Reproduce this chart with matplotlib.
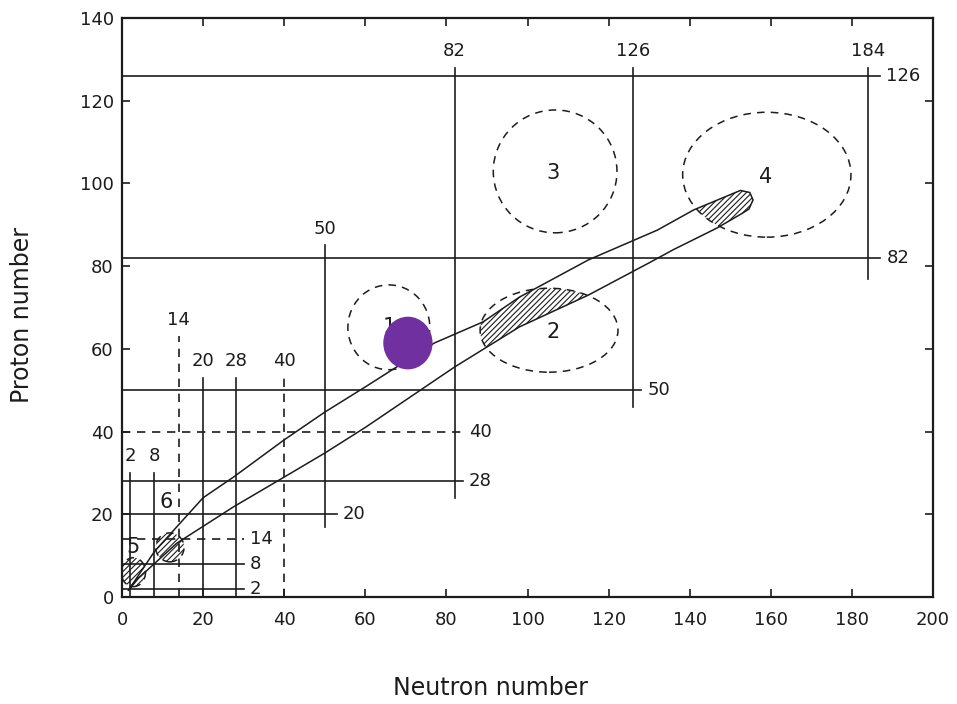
import matplotlib
matplotlib.use("Agg")
import matplotlib.pyplot as plt
from matplotlib.patches import Ellipse, Polygon

# magic numbers (14 and 40 are the semi-magic, dashed ones)
MAGIC_N = [2, 8, 14, 20, 28, 40, 50, 82, 126, 184]
MAGIC_Z = [2, 8, 14, 20, 28, 40, 50, 82, 126]
DASHED = [14, 40]

# edges of the stability band
UPPER_N = [1.5, 8, 20, 27.5, 40, 50, 60, 77, 89, 98, 115, 132, 141, 152.5]
UPPER_Z = [1.5, 11, 24, 29, 38, 44.7, 50.8, 61.4, 66.5, 72.5, 81.5, 88.7, 93.6, 98.3]
TIP_N = [154.8, 155.6, 154.6]
TIP_Z = [97.8, 96.0, 93.8]
LOWER_N = [153, 146.7, 136, 130, 115, 98, 82, 60, 50, 40, 27.5, 13.5, 4, 1.5]
LOWER_Z = [92.8, 89.2, 84, 80.8, 73, 65.3, 55.6, 41, 34.8, 29, 21.8, 13, 4.5, 1.5]

# deformation islands: id, centre (N, Z), extent in N and Z
ISLAND_ID = ["1", "2", "3", "4", "5", "6"]
ISLAND_N = [65.8, 105.3, 106.8, 159.0, 2.8, 11.8]
ISLAND_Z = [65.2, 64.5, 102.9, 102.1, 6.0, 12.0]
ISLAND_DN = [20.2, 34.0, 30.5, 41.5, 6.0, 7.0]
ISLAND_DZ = [20.5, 20.3, 29.7, 30.2, 7.0, 7.0]

MARK_N, MARK_Z = 70.5, 61.4

# drawing layout
N_SPAN = {2: (0, 30), 8: (0, 30), 14: (0, 63), 20: (0, 53), 28: (0, 53),
          40: (0, 53), 50: (17, 85), 82: (24, 128), 126: (46, 128), 184: (77, 128)}
Z_SPAN = {2: (0, 30), 8: (0, 30), 14: (0, 30), 20: (0, 53), 28: (0, 84),
          40: (0, 84), 50: (0, 128), 82: (0, 187), 126: (0, 187)}
ISLAND_LABEL = {"1": (66, 65.3), "2": (106.3, 64.0), "3": (106.3, 102.5),
                "4": (158.6, 101.5), "5": (2.7, 12.0), "6": (11.0, 23.0)}
HATCHED = ["2", "4"]

INK = "#1c1c1c"
DASH = (0, (5, 4))

plt.rcParams["font.family"] = "DejaVu Sans"
plt.rcParams["hatch.linewidth"] = 0.8
plt.rcParams["hatch.color"] = INK

fig = plt.figure(figsize=(9.57, 7.04), dpi=100)
ax = fig.add_axes([0.1275, 0.152, 0.8475, 0.8225])
ax.set_xlim(0, 200)
ax.set_ylim(0, 140)

# vertical shell closures
for n in MAGIC_N:
    z0, z1 = N_SPAN[n]
    ax.plot([n, n], [z0, z1], color=INK, lw=1.2,
            ls=DASH if n in DASHED else "-")
    ax.text(n, z1 + 4, str(n), ha="center", va="center", fontsize=13, color=INK)

# horizontal shell closures
for z in MAGIC_Z:
    n0, n1 = Z_SPAN[z]
    ax.plot([n0, n1], [z, z], color=INK, lw=1.2,
            ls=DASH if z in DASHED else "-")
    ax.text(n1 + 1.5, z, str(z), ha="left", va="center", fontsize=13, color=INK)

# stability band
band = list(zip(UPPER_N + TIP_N + LOWER_N, UPPER_Z + TIP_Z + LOWER_Z))
ax.add_patch(Polygon(band, closed=True, fill=False, edgecolor=INK, lw=1.1))

islands = {}
for i, n, z, dn, dz in zip(ISLAND_ID, ISLAND_N, ISLAND_Z, ISLAND_DN, ISLAND_DZ):
    e = Ellipse((n, z), dn, dz, fill=False, edgecolor=INK, lw=1.1, ls=DASH)
    ax.add_patch(e)
    islands[i] = e
    lx, ly = ISLAND_LABEL[i]
    ax.text(lx, ly, i, ha="center", va="center", fontsize=15, color=INK)

# overlap of the band with islands 2 and 4
for i in HATCHED:
    h = Polygon(band, closed=True, facecolor="none", edgecolor=INK, lw=0,
                hatch="//////")
    ax.add_patch(h)
    h.set_clip_path(islands[i])

# the two light islands near the origin are hatched whole
for i in ["5", "6"]:
    e = islands[i]
    ax.add_patch(Ellipse(e.center, e.width, e.height, facecolor="none",
                         edgecolor=INK, lw=0, hatch="//////"))

ax.add_patch(Ellipse((MARK_N, MARK_Z), 11.8, 12.4, color="#7030a0", zorder=5))

ax.set_xticks(range(0, 201, 20))
ax.set_yticks(range(0, 141, 20))
ax.tick_params(direction="in", top=True, right=True, length=6, width=1.2,
               labelsize=13, colors=INK)
ax.tick_params(axis="x", pad=10)
ax.tick_params(axis="y", pad=6)
for s in ax.spines.values():
    s.set_linewidth(1.6)
    s.set_color(INK)

ax.set_xlabel("Neutron number", fontsize=17, color=INK)
ax.xaxis.set_label_coords(0.454, -0.136)
ax.set_ylabel("Proton number", fontsize=17, color=INK)
ax.yaxis.set_label_coords(-0.108, 0.487)

fig.savefig("out.png", dpi=100)
